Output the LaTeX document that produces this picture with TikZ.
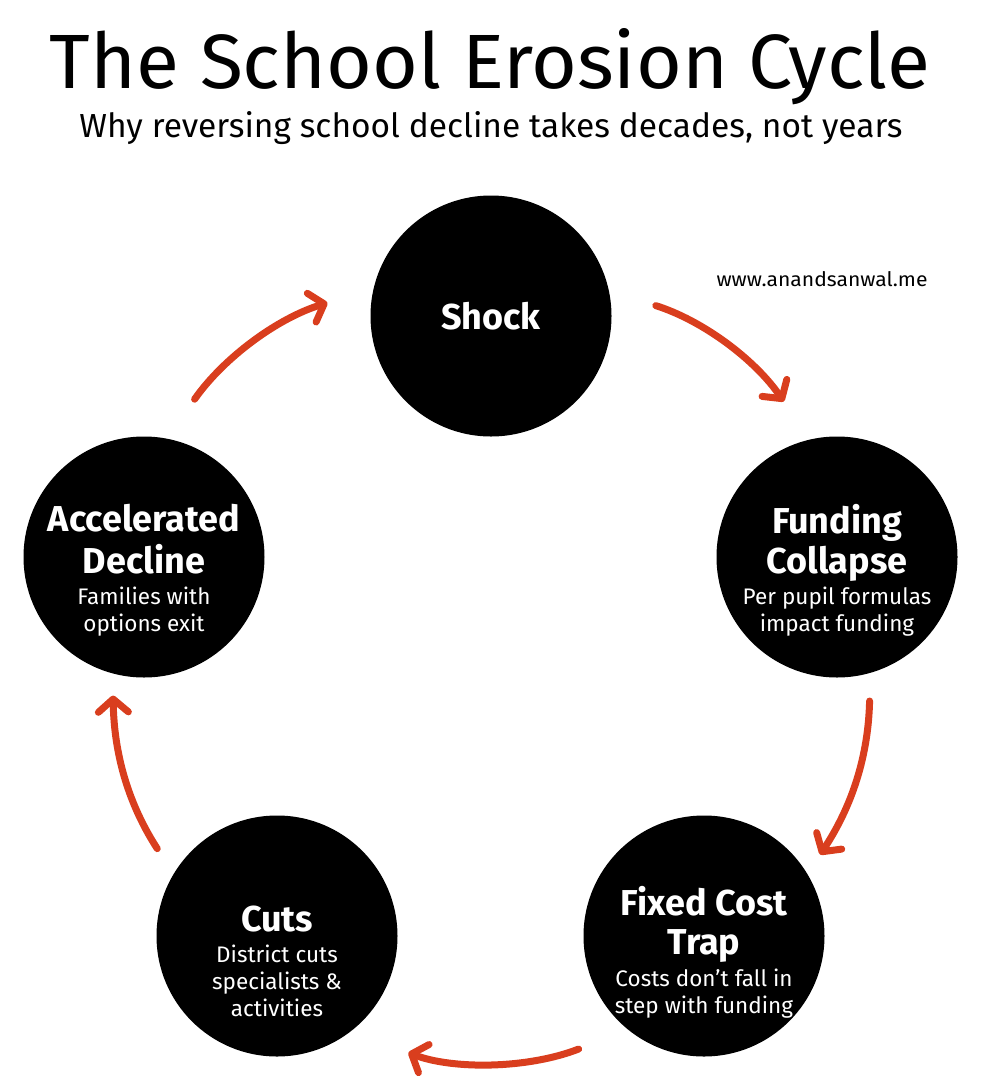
\documentclass[tikz,border=0pt]{standalone}
\usepackage{fontspec}
\setmainfont{Fira Sans}
\usetikzlibrary{arrows.meta}
\definecolor{cyclered}{HTML}{D93E1E}
\newcommand{\stagefont}{\bfseries\fontsize{36}{38}\selectfont}
\newcommand{\notefont}{\fontsize{22.5}{27}\selectfont}
\newcommand{\stagehead}[1]{{\stagefont\strut #1}}
\newcommand{\stagenote}[1]{\strut #1}

\begin{document}
\begin{tikzpicture}[x=1pt,y=-1pt,
    stage/.style={circle,fill=black,minimum size=241pt,inner sep=0pt},
    stagetext/.style={text=white,align=center,font=\notefont},
    cyc/.style={draw=cyclered,line width=7pt,line cap=round,-{Straight Barb[round,length=13pt,width=30pt]}}]
  \useasboundingbox (0,0) rectangle (998,1090);
  % Titles
  \node[anchor=base] (title) at (490,88) {\resizebox{880pt}{60pt}{The School Erosion Cycle}};
  \node[anchor=base] (subtitle) at (491,137) {\resizebox{823pt}{26pt}{Why reversing school decline takes decades, not years}};
  \node[anchor=base] (site) at (822,286) {\resizebox{211pt}{15pt}{www.anandsanwal.me}};
  % Stages
  \node[stage] (shock) at (491,316) {};
  \node[stage] (fund) at (837,557) {};
  \node[stage] (fixed) at (704,936) {};
  \node[stage] (cuts) at (277,936) {};
  \node[stage] (accel) at (144,557) {};
  \node[stagetext] (shocktext) at (491,322) {\stagehead{Shock}};
  \node[stagetext] (fundtext) at (837,572) {\stagehead{Funding}\\\stagehead{Collapse}\\\stagenote{Per pupil formulas}\\\stagenote{impact funding}};
  \node[stagetext] (fixedtext) at (704,954) {\stagehead{Fixed Cost}\\\stagehead{Trap}\\\stagenote{Costs don’t fall in}\\\stagenote{step with funding}};
  \node[stagetext] (cutstext) at (277,965) {\stagehead{Cuts}\\\stagenote{District cuts}\\\stagenote{specialists \&}\\\stagenote{activities}};
  \node[stagetext] (acceltext) at (144,572) {\stagehead{Accelerated}\\\stagehead{Decline}\\\stagenote{Families with}\\\stagenote{options exit}};
  % Arrows
  \draw[cyc,shorten <=49pt,shorten >=46pt] (shock.12) to[bend left=19] (fund.103);
  \draw[cyc,shorten <=28pt,shorten >=23pt] (fund.286) to[bend left=16] (fixed.31);
  \draw[cyc,shorten <=53pt,shorten >=61pt] (fixed.231) to[bend left=21] (cuts.308);
  \draw[cyc,shorten <=30pt,shorten >=22pt] (cuts.149) to[bend left=16] (accel.255);
  \draw[cyc,shorten <=48pt,shorten >=48pt] (accel.79) to[bend left=19] (shock.167);
\end{tikzpicture}
\end{document}
